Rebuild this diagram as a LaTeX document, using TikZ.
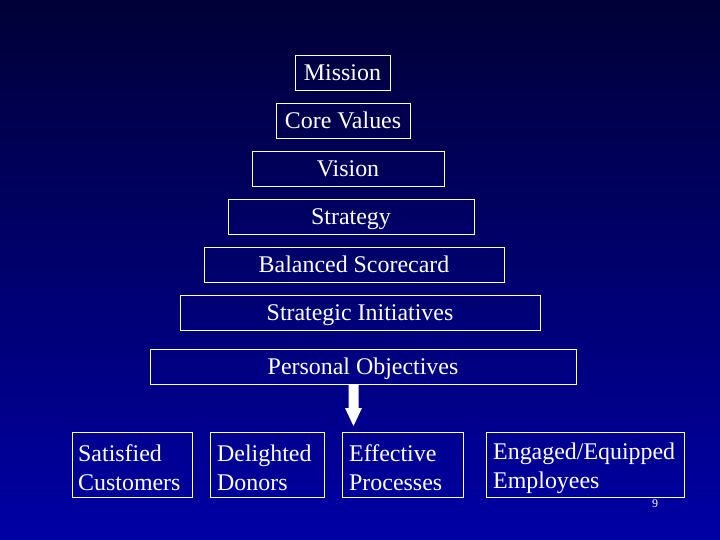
\documentclass[tikz,border=0pt]{standalone}
\usepackage{fontspec}
\setmainfont{Liberation Serif}
\begin{document}
\begin{tikzpicture}[x=1bp,y=-1bp,
  box/.style={draw=white,line width=0.8bp,text=white,font=\fontsize{24}{29}\selectfont,inner sep=0,text height=18bp,text depth=2bp},
  btext/.style={text=white,font=\fontsize{24}{29}\selectfont,inner sep=0,align=left,anchor=west}]
\shade[top color={rgb,255:red,0;green,0;blue,55},bottom color={rgb,255:red,0;green,0;blue,165}] (0,0) rectangle (720,540);
\useasboundingbox (0,0) rectangle (720,540);
\node[box,minimum width=95bp,minimum height=35bp] (m) at (342.5,72.5) {Mission};
\node[box,minimum width=134bp,minimum height=35bp] (cv) at (343,120.5) {Core Values};
\node[box,minimum width=192bp,minimum height=35bp] (v) at (348,168.5) {Vision};
\node[box,minimum width=246bp,minimum height=35bp] (s) at (351,216.5) {Strategy};
\node[box,minimum width=300bp,minimum height=35bp] (b) at (354,264.5) {Balanced Scorecard};
\node[box,minimum width=360bp,minimum height=35bp] (si) at (360,312.5) {Strategic Initiatives};
\node[box,minimum width=426bp,minimum height=35bp] (p) at (363,366.5) {Personal Objectives};
\draw[white,line width=0.8bp] (72,432) rectangle (192,497) (210,432) rectangle (324,497) (342,432) rectangle (463,497) (486,432) rectangle (684,497);
\node[btext] (c1) at (78,468) {Satisfied\\Customers};
\node[btext] (c2) at (217,468) {Delighted\\Donors};
\node[btext] (c3) at (349,468) {Effective\\Processes};
\node[btext] (c4) at (493,468) {Engaged/Equipped\\Employees};
\coordinate (tip) at (353.5,426);
\fill[white] (p.south -| 348.5,0) rectangle (358.5,408) (345,408) -- (362,408) -- (tip) -- cycle;
\node[text=white,font=\fontsize{12}{14}\selectfont] (n) at (655,504) {9};
\end{tikzpicture}
\end{document}
